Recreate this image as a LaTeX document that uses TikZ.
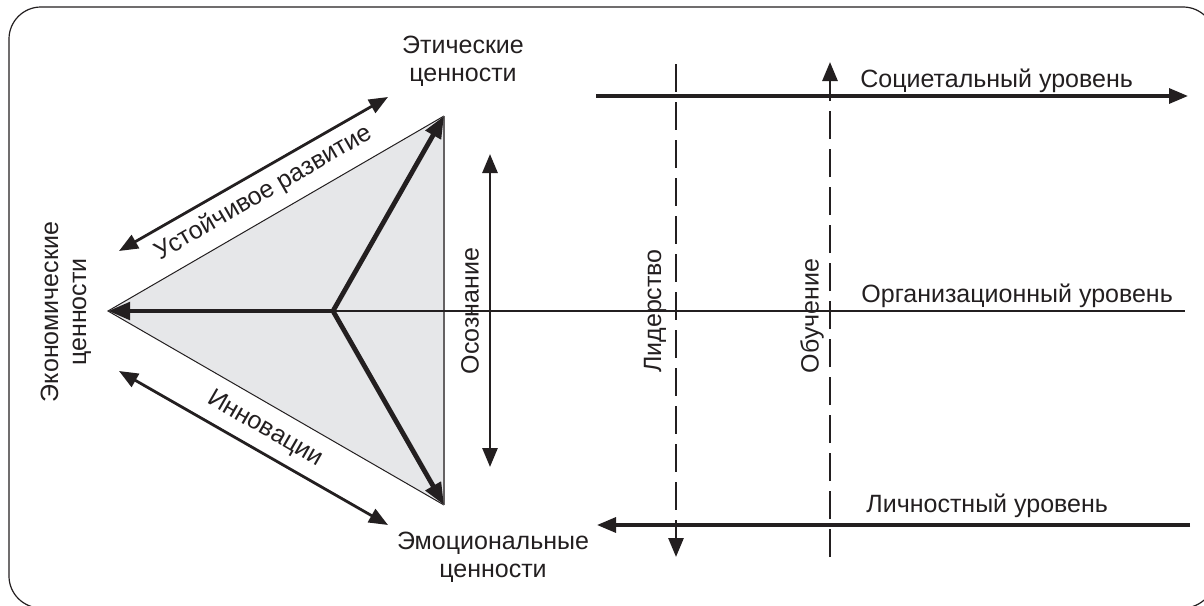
\documentclass[tikz,border=0pt]{standalone}
\usepackage{fontspec}
\setmainfont{Liberation Sans}
\usetikzlibrary{arrows.meta}
\definecolor{ink}{HTML}{231F20}
\definecolor{trifill}{HTML}{E6E7E9}
\begin{document}
\begin{tikzpicture}[x=0.5pt,y=-0.5pt,
  every node/.style={font=\fontsize{12.5}{14}\selectfont, text=ink, inner sep=0pt},
  lbl/.style={align=center},
  tipA/.tip={Triangle[length=9.5pt,width=7.5pt]},
  tipB/.tip={Triangle[length=11pt,width=8.5pt]},
  dblarrow/.style={draw=ink, line width=1.4pt, tipA-tipA},
  levelarrow/.style={draw=ink, line width=1.6pt},
  dashline/.style={draw=ink, line width=1.4pt, dash pattern=on 14pt off 5pt},
  spoke/.style={draw=ink, line width=2.4pt, -tipB},
  frame/.style={draw=ink, line width=0.6pt, rounded corners=16pt}
]
\useasboundingbox (0,0) rectangle (1204,605);
\draw[frame] (9,7) rectangle (1215,608);

% triangle
\coordinate (C) at (333,311);
\coordinate (E) at (108,311);
\coordinate (T) at (444,116);
\coordinate (B) at (444,505);
\fill[trifill] (E) -- (T) -- (B) -- cycle;
\draw[ink, line width=0.5pt] (B) -- (E) -- (T);
\draw[ink!70, line width=0.7pt] (T) -- (B);

% organisational line
\coordinate (orgend) at (1185,311);
\draw[ink, line width=0.6pt] (C) -- (orgend);

% spokes
\draw[spoke] (C) -- (E);
\draw[spoke] (C) -- (T);
\draw[spoke] (C) -- (B);

% double arrows
\coordinate (u1) at (119,251);
\coordinate (u2) at (388,97);
\draw[dblarrow] (u1) -- (u2);
\coordinate (i1) at (119,371);
\coordinate (i2) at (388,525);
\draw[dblarrow] (i1) -- (i2);
\coordinate (o1) at (490,154);
\coordinate (o2) at (490,467);
\draw[dblarrow] (o1) -- (o2);

% dashed verticals
\coordinate (l1) at (676,64);
\coordinate (l2) at (676,557);
\draw[dashline, -tipA] (l1) -- (l2);
\coordinate (b1) at (830,557);
\coordinate (b2) at (830,62);
\draw[dashline, -tipA] (b1) -- (b2);

% level arrows
\coordinate (s1) at (596,96);
\coordinate (s2) at (1188,96);
\draw[levelarrow, -tipA] (s1) -- (s2);
\coordinate (p1) at (1190,525);
\coordinate (p2) at (597,525);
\draw[levelarrow, -tipA] (p1) -- (p2);

% labels
\node[lbl] (eth) at (463,61) {Этические\\ценности};
\node[lbl] (emo) at (493,557) {Эмоциональные\\ценности};
\node[lbl, rotate=90] (eco) at (66,312) {Экономические\\ценности};
\node[rotate=30] (ustr) at (264,193) {Устойчивое развитие};
\node[rotate=-30] (innov) at (265,429) {Инновации};
\node[rotate=90] (osoz) at (470,311) {Осознание};
\node[rotate=90] (lid) at (655,311) {Лидерство};
\node[rotate=90] (obuch) at (812,316) {Обучение};
\node[anchor=base west] (soc) at (860,87) {Социетальный уровень};
\node[anchor=base west] (org) at (861,302) {Организационный уровень};
\node[anchor=base west] (lich) at (866,512) {Личностный уровень};
\end{tikzpicture}
\end{document}
